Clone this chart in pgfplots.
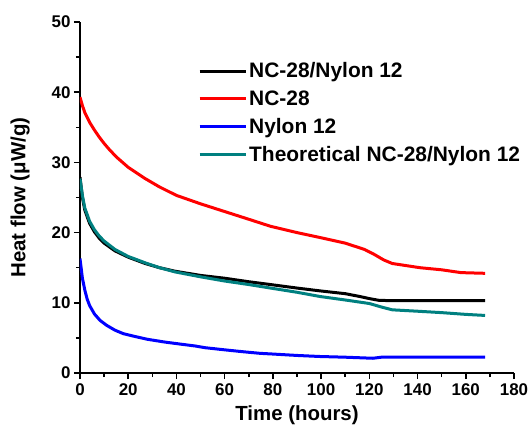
\documentclass[border=0pt]{standalone}
\usepackage{fontspec}
\setmainfont{Liberation Sans}
\usepackage{pgfplots}
\pgfplotsset{compat=1.18}
\definecolor{cteal}{HTML}{008080}

\pgfplotstableread{
t v
0 39.3
1 38.1
2 37.1
4 35.7
6 34.6
8 33.6
10 32.7
12 31.9
15 30.8
20 29.3
27 27.7
33 26.5
40 25.3
50 24.1
60 23.0
70 21.9
79 20.9
90 20.0
99.5 19.3
110 18.5
118 17.6
122 16.9
126 16.1
129.5 15.6
141 15.0
150 14.7
158 14.3
168 14.2
}\redtab

\pgfplotstableread{
t v
0 27.9
1 25.0
2 23.2
4 21.3
6 20.1
8 19.2
10 18.5
14.5 17.4
20 16.5
27 15.6
33 15.0
39.4 14.5
50 13.9
60 13.5
70 13.0
79 12.6
90 12.1
99.5 11.7
110 11.3
116 10.9
120 10.6
124 10.35
130 10.3
168 10.3
}\blacktab

\pgfplotstableread{
t v
0 27.7
1 25.3
2 23.5
4 21.6
6 20.4
8 19.5
10 18.8
14.5 17.6
20 16.6
27 15.7
33 15.0
39.4 14.4
50 13.7
60 13.1
70 12.6
79 12.1
90 11.5
99.5 10.9
110 10.4
120 9.9
125 9.4
129.5 9.0
140 8.8
150 8.6
160 8.35
168 8.2
}\tealtab

\pgfplotstableread{
t v
0 16.3
1 13.5
2 11.8
3 10.5
4 9.6
6 8.4
8.3 7.5
11 6.8
14.5 6.1
18 5.6
22.8 5.2
28 4.8
35.3 4.4
42 4.1
47.7 3.85
52 3.6
60 3.3
67 3.05
74.7 2.8
80 2.7
90 2.5
99.5 2.35
110 2.25
121.5 2.1
125 2.25
140 2.25
168 2.25
}\bluetab

\begin{document}
\begin{tikzpicture}
\path[use as bounding box] (-80bp,-55bp) rectangle (448bp,373bp);
\begin{axis}[
  at={(0,0)}, anchor=south west,
  scale only axis, width=434bp, height=351bp,
  xmin=0, xmax=180, ymin=0, ymax=50,
  axis x line=bottom, axis y line=left,
  axis line style={-, line width=1.8bp},
  xtick={0,20,...,180}, ytick={0,10,...,50},
  minor x tick num=1, minor y tick num=1,
  tick align=outside,
  major tick length=6bp, minor tick length=4bp,
  tick style={black, line width=1.5bp},
  /pgf/number format/assume math mode=true,
  ticklabel style={font=\fontsize{17}{19}\selectfont\bfseries},
  xticklabel style={yshift=-1bp},
  label style={font=\fontsize{20.5}{22}\selectfont\bfseries},
  xlabel={Time (hours)}, ylabel={Heat flow (μW/g)},
  xlabel style={at={(axis description cs:0.5,-0.12)}, anchor=center},
  ylabel style={at={(axis description cs:-0.138,0.5)}, anchor=center},
  legend style={at={(0.265,0.896)}, anchor=north west, draw=none, fill=none,
    font=\fontsize{21}{23}\selectfont\bfseries, row sep=7.3bp,
    cells={anchor=west}},
  legend image code/.code={\draw[#1] (0bp,0bp) -- (46bp,0bp);},
  every axis plot/.append style={line width=3bp, line join=round},
]
\addplot[black] table[x=t,y=v] {\blacktab};
\addplot[red] table[x=t,y=v] {\redtab};
\addplot[blue] table[x=t,y=v] {\bluetab};
\addplot[cteal] table[x=t,y=v] {\tealtab};
\legend{NC-28/Nylon 12, NC-28, Nylon 12, Theoretical NC-28/Nylon 12}
\end{axis}
\end{tikzpicture}
\end{document}
